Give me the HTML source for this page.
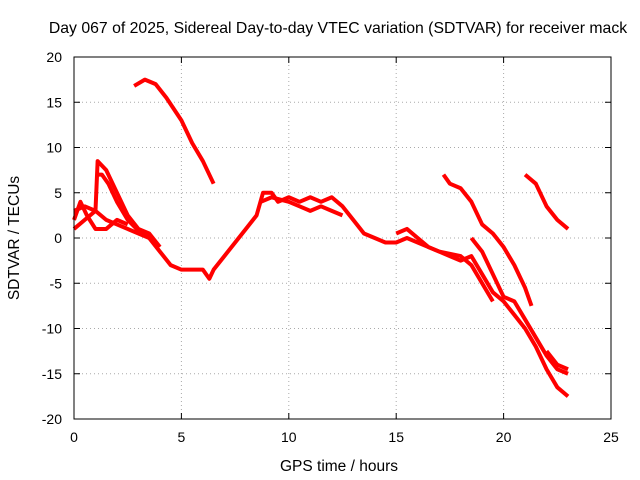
<!DOCTYPE html>
<html><head><meta charset="utf-8"><style>
body{margin:0;background:#fff}
svg{display:block;font-family:"Liberation Sans",sans-serif}
</style></head><body>
<svg id="chart" width="640" height="480">
<text x="338" y="33" font-size="15.8" text-anchor="middle">Day 067 of 2025, Sidereal Day-to-day VTEC variation (SDTVAR) for receiver mack</text>
<text x="339" y="471" font-size="15.5" text-anchor="middle">GPS time / hours</text>
<text transform="translate(19,238) rotate(-90)" font-size="15.5" text-anchor="middle">SDTVAR / TECUs</text>
<g id="grid"></g><g id="series"></g>
<rect x="74" y="57" width="537" height="362" fill="none" stroke="#000"/>
</svg>
<script>
const xTicks=[0,5,10,15,20,25];
const yTicks=[-20,-15,-10,-5,0,5,10,15,20];
const trackA=[[2.8,16.8],[3.3,17.5],[3.8,17],[4.3,15.5],[5,13],[5.5,10.5],[6,8.5],[6.5,6]];
const trackB=[[1,7],[1.3,7],[1.6,6],[2,4],[2.5,2],[3,0.8],[3.5,0]];
const trackC=[[0,1],[0.5,2],[1,3],[1.5,2],[2,1.5],[3,0.5],[3.5,0],[4,-1.5],[4.5,-3],[5,-3.5],[5.5,-3.5],[6,-3.5],[6.3,-4.5],[6.5,-3.5],[7,-2],[8,1],[8.5,2.5],[8.8,5],[9.2,5],[9.5,4],[10,4.5],[10.5,4],[11,4.5],[11.5,4],[12,4.5],[12.5,3.5],[13,2],[13.5,0.5],[14,0],[14.5,-0.5],[15,-0.5],[15.5,0],[16,-0.5],[16.5,-1],[17,-1.5],[17.5,-2],[18,-2.5],[18.5,-2],[19,-4],[19.5,-6],[20,-7],[20.5,-8.5],[21,-10],[21.5,-12],[22,-14.5],[22.5,-16.5],[23,-17.5]];
const trackD=[[0,3],[0.5,3.5],[1,3],[1.1,8.5],[1.5,7.5],[2,5],[2.5,2.5],[3,1],[3.5,0.5],[4,-1]];
const trackD2=[[0,2],[0.3,4],[0.6,2.5],[1,1],[1.5,1],[2,2],[2.5,1.5]];
const trackC2=[[8.7,4],[9.2,4.5],[10,4],[10.5,3.5],[11,3],[11.5,3.5],[12,3],[12.5,2.5]];
const trackE=[[17.2,7],[17.5,6],[18,5.5],[18.5,4],[19,1.5],[19.5,0.5],[20,-1],[20.5,-3],[21,-5.5],[21.3,-7.5]];
const trackF=[[21,7],[21.5,6],[22,3.5],[22.5,2],[23,1]];
const trackG=[[18.5,0],[19,-1.5],[19.5,-4],[20,-6.5],[20.5,-7],[21,-9],[21.5,-11],[22,-13],[22.5,-14.5],[23,-15]];
const trackH=[[15,0.5],[15.5,1],[16,0],[16.5,-1],[17,-1.5],[18,-2],[18.5,-3],[19,-5],[19.5,-7]];
const trackI=[[22,-12.5],[22.5,-14],[23,-14.5]];
const tracks=[trackA,trackB,trackC,trackD,trackD2,trackC2,trackE,trackF,trackG,trackH,trackI];
const X=v=>74+v*(537/25), Y=v=>238-v*(362/40);
const ns="http://www.w3.org/2000/svg";
const grid=document.getElementById('grid'), ser=document.getElementById('series');
function tick(x1,y1,x2,y2){
 const k=document.createElementNS(ns,'line');
 
 
 k.setAttribute('x1',x1);k.setAttribute('y1',y1);k.setAttribute('x2',x2);k.setAttribute('y2',y2);
 k.setAttribute('stroke','#000');grid.appendChild(k);
}
xTicks.forEach(t=>{
 const l=document.createElementNS(ns,'line');
 
 
 l.setAttribute('x1',X(t));l.setAttribute('x2',X(t));l.setAttribute('y1',57);l.setAttribute('y2',419);
 l.setAttribute('stroke','#aaa');l.setAttribute('stroke-dasharray','1,3');grid.appendChild(l);
 tick(X(t),419,X(t),413);tick(X(t),57,X(t),63);
 const s=document.createElementNS(ns,'text');
 
 
 s.setAttribute('x',X(t));s.setAttribute('y',442);s.setAttribute('font-size','14');s.setAttribute('text-anchor','middle');
 s.textContent=t;grid.appendChild(s);
});
yTicks.forEach(t=>{
 const l=document.createElementNS(ns,'line');
 
 
 l.setAttribute('x1',74);l.setAttribute('x2',611);l.setAttribute('y1',Y(t));l.setAttribute('y2',Y(t));
 l.setAttribute('stroke','#aaa');l.setAttribute('stroke-dasharray','1,3');grid.appendChild(l);
 tick(74,Y(t),80,Y(t));tick(611,Y(t),605,Y(t));
 const s=document.createElementNS(ns,'text');
 
 
 s.setAttribute('x',62);s.setAttribute('y',Y(t)+5);s.setAttribute('font-size','14');s.setAttribute('text-anchor','end');
 s.textContent=t;grid.appendChild(s);
});
tracks.forEach(tr=>{
 const p=document.createElementNS(ns,'polyline');
 
 
 p.setAttribute('points',tr.map(d=>X(d[0])+','+Y(d[1])).join(' '));
 p.setAttribute('fill','none');p.setAttribute('stroke','#f00');p.setAttribute('stroke-width','4');
 p.setAttribute('stroke-linejoin','round');
 ser.appendChild(p);
});
</script>
</body></html>
